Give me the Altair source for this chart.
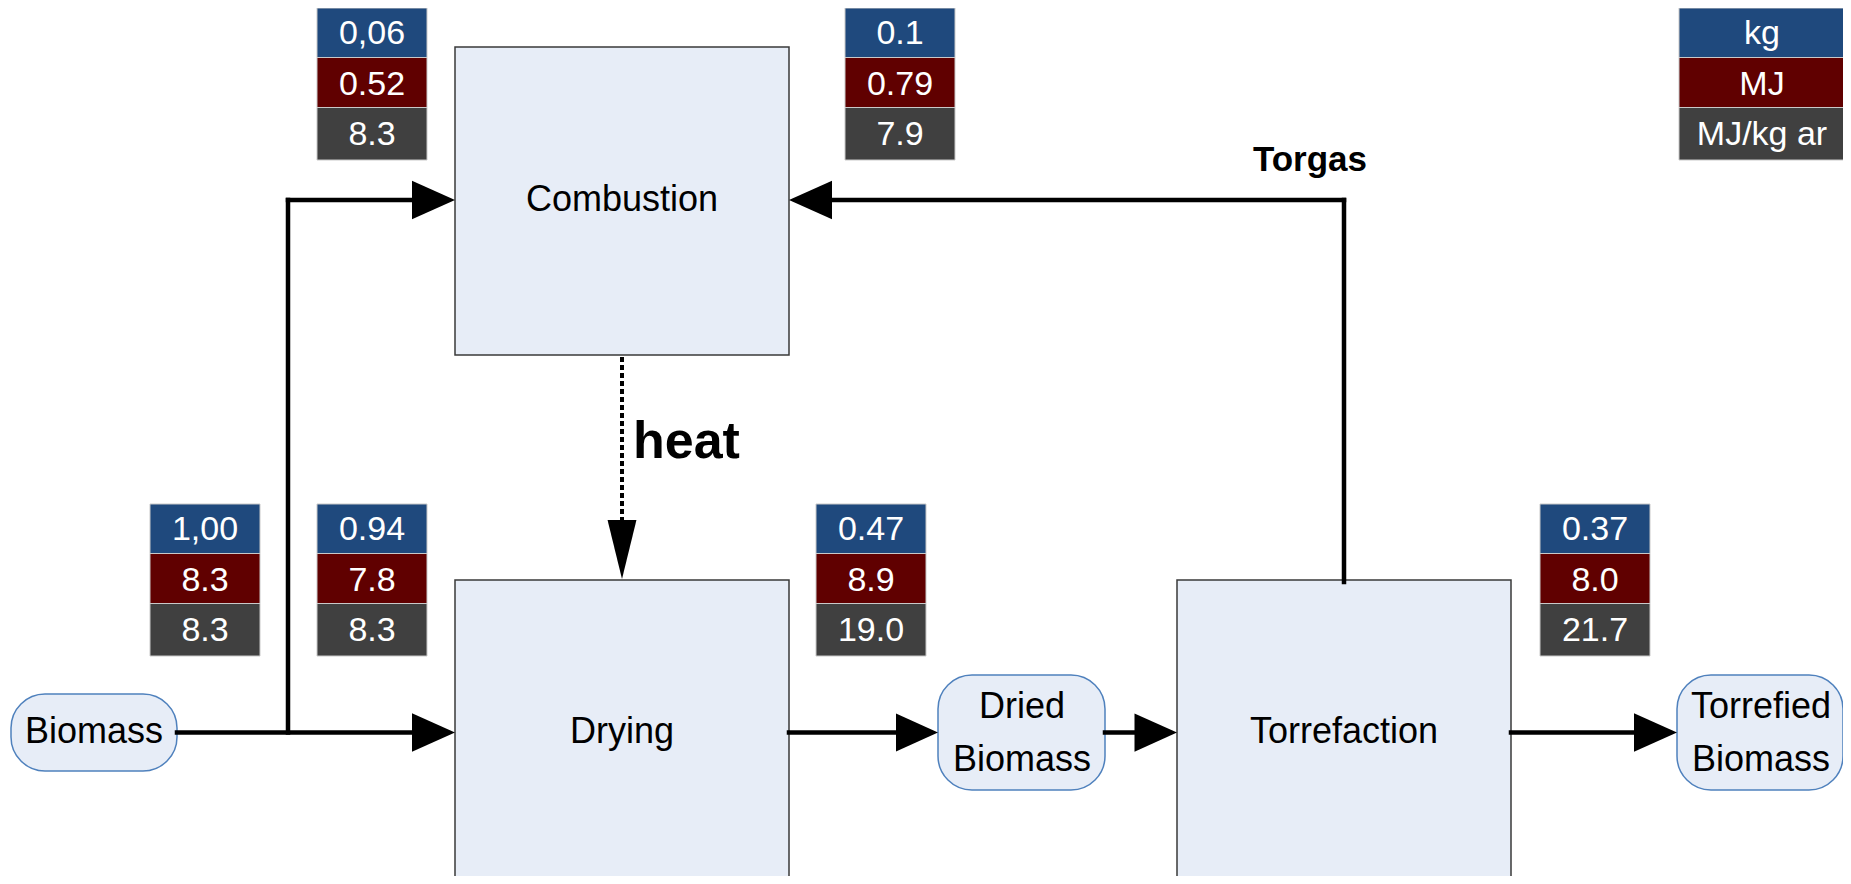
import altair as alt
import pandas as pd

# ---------------- values ----------------
table_ids = ["combustion_in", "torgas", "legend", "biomass", "drying_in", "dried", "torrefied"]
mass_kg = ["0,06", "0.1", "kg", "1,00", "0.94", "0.47", "0.37"]
energy_mj = ["0.52", "0.79", "MJ", "8.3", "7.8", "8.9", "8.0"]
lhv_mj_kg = ["8.3", "7.9", "MJ/kg ar", "8.3", "8.3", "19.0", "21.7"]

process_names = ["Combustion", "Drying", "Torrefaction"]
stream_names = [["Biomass"], ["Dried", "Biomass"], ["Torrefied", "Biomass"]]
flow_labels = ["Torgas", "heat"]

# ---------------- layout (pixel coordinates of the reference) ----------------
W, H = 1835, 868
X0, Y0 = 8, 8
FONT = "Liberation Sans Narrow, Arial Narrow, Liberation Sans, Arial, sans-serif"

table_left = [317, 845, 1679, 150, 317, 816, 1540]
table_width = [110, 110, 166, 110, 110, 110, 110]
table_top = [8, 8, 8, 504, 504, 504, 504]
row_edges = [0, 49.5, 99.5, 152]
row_baseline = [36, 86.5, 136.5]
row_colors = ["#1F497D", "#600000", "#404040"]

proc_x = [455, 455, 1177]
proc_x2 = [789, 789, 1511]
proc_y = [47, 580, 580]
proc_y2 = [355, 900, 900]
proc_label_x = [622, 622, 1344]
proc_label_y = [210.5, 742.5, 742.5]

term_x = [11, 938, 1677]
term_x2 = [177, 1105, 1843]
term_y = [694, 675, 675]
term_y2 = [771, 790, 790]
term_label_x = [94, 1022, 1761]
term_label_y = [[742.5], [717.5], [717.5]]
term_label_y2 = [None, 771, 771]

# solid flow segments (x, y, x2, y2)
segments = [
    (177, 732.5, 418, 732.5),   # biomass -> drying
    (288, 732.5, 288, 200),     # branch up
    (288, 200, 416, 200),       # branch -> combustion
    (1344, 582, 1344, 200),     # torgas up
    (1344, 200, 828, 200),      # torgas -> combustion
    (789, 732.5, 900, 732.5),   # drying -> dried biomass
    (1105, 732.5, 1139, 732.5), # dried -> torrefaction
    (1511, 732.5, 1638, 732.5), # torrefaction -> torrefied
]
heat_segment = (622, 357, 622, 524)

RIGHT = "M0,0L-2,-0.9L-2,0.9Z"
LEFT = "M0,0L2,-0.9L2,0.9Z"
DOWN = "M0,0L-0.49,-2L0.49,-2Z"
arrow_x = [455, 789, 455, 938, 1177, 1677, 622]
arrow_y = [200, 200, 732.5, 732.5, 732.5, 732.5, 579]
arrow_shape = [RIGHT, LEFT, RIGHT, RIGHT, RIGHT, RIGHT, DOWN]
arrow_len = [43, 43, 43, 42, 42.5, 43, 59]

# ---------------- build tables ----------------
xs = alt.Scale(domain=[X0, X0 + W], nice=False, zero=False)
ys = alt.Scale(domain=[Y0, Y0 + H], nice=False, zero=False, reverse=True)


def X(f="x"):
    return alt.X(f"{f}:Q", scale=xs, axis=None)


def Y(f="y"):
    return alt.Y(f"{f}:Q", scale=ys, axis=None)


cells, cell_text = [], []
for i, tid in enumerate(table_ids):
    vals = [mass_kg[i], energy_mj[i], lhv_mj_kg[i]]
    for r in range(3):
        cells.append(dict(x=table_left[i], x2=table_left[i] + table_width[i],
                          y=table_top[i] + row_edges[r], y2=table_top[i] + row_edges[r + 1],
                          fill=row_colors[r]))
        cell_text.append(dict(x=table_left[i] + table_width[i] / 2,
                              y=table_top[i] + row_baseline[r], text=vals[r]))
cells = pd.DataFrame(cells)
cell_text = pd.DataFrame(cell_text)

procs = pd.DataFrame(dict(x=proc_x, x2=proc_x2, y=proc_y, y2=proc_y2))
proc_labels = pd.DataFrame(dict(x=proc_label_x, y=proc_label_y, text=process_names))

terms = pd.DataFrame(dict(x=term_x, x2=term_x2, y=term_y, y2=term_y2))
term_rows = []
for i, lines in enumerate(stream_names):
    ys_lines = term_label_y[i] + ([term_label_y2[i]] if term_label_y2[i] is not None else [])
    for j, ln in enumerate(lines):
        term_rows.append(dict(x=term_label_x[i], y=ys_lines[j], text=ln))
term_labels = pd.DataFrame(term_rows)

segs = pd.DataFrame(segments, columns=["x", "y", "x2", "y2"])
heat = pd.DataFrame([heat_segment], columns=["x", "y", "x2", "y2"])
arrows = pd.DataFrame(dict(x=arrow_x, y=arrow_y, shape=arrow_shape,
                           size=[l * l for l in arrow_len]))

bold_labels = pd.DataFrame(dict(x=[1310, 633], y=[170.5, 457.5], text=flow_labels))

# ---------------- layers ----------------
proc_layer = alt.Chart(procs).mark_rect(fill="#E7EDF7", stroke="#3A3A3A", strokeWidth=1.5).encode(
    x=X(), x2="x2:Q", y=Y(), y2="y2:Q")
term_layer = alt.Chart(terms).mark_rect(fill="#E7EDF7", stroke="#4F81BD", strokeWidth=1.5,
                                        cornerRadius=34).encode(
    x=X(), x2="x2:Q", y=Y(), y2="y2:Q")
seg_layer = alt.Chart(segs).mark_rule(color="black", strokeWidth=4.5, strokeCap="square").encode(
    x=X(), x2="x2:Q", y=Y(), y2="y2:Q")
heat_layer = alt.Chart(heat).mark_rule(color="black", strokeWidth=4, strokeDash=[5, 3]).encode(
    x=X(), x2="x2:Q", y=Y(), y2="y2:Q")
arrow_layer = alt.Chart(arrows).mark_point(filled=True, opacity=1, color="black", strokeWidth=0).encode(
    x=X(), y=Y(), shape=alt.Shape("shape:N", scale=None, legend=None),
    size=alt.Size("size:Q", scale=None, legend=None))
cell_layer = alt.Chart(cells).mark_rect(stroke="#C9C9C9", strokeWidth=1).encode(
    x=X(), x2="x2:Q", y=Y(), y2="y2:Q", fill=alt.Fill("fill:N", scale=None, legend=None))
cell_text_layer = alt.Chart(cell_text).mark_text(font=FONT, fontSize=34, color="white",
                                                 align="center", baseline="alphabetic").encode(
    x=X(), y=Y(), text="text:N")
proc_text_layer = alt.Chart(proc_labels).mark_text(font=FONT, fontSize=36, color="black",
                                                   align="center", baseline="alphabetic").encode(
    x=X(), y=Y(), text="text:N")
term_text_layer = alt.Chart(term_labels).mark_text(font=FONT, fontSize=36, color="black",
                                                   align="center", baseline="alphabetic").encode(
    x=X(), y=Y(), text="text:N")
torgas_layer = alt.Chart(bold_labels.iloc[[0]]).mark_text(font=FONT, fontSize=35, fontWeight="bold",
                                                          color="black", align="center",
                                                          baseline="alphabetic").encode(
    x=X(), y=Y(), text="text:N")
heat_text_layer = alt.Chart(bold_labels.iloc[[1]]).mark_text(font=FONT, fontSize=52, fontWeight="bold",
                                                             color="black", align="left",
                                                             baseline="alphabetic").encode(
    x=X(), y=Y(), text="text:N")

chart = alt.layer(
    proc_layer, term_layer, seg_layer, heat_layer, arrow_layer,
    cell_layer, cell_text_layer, proc_text_layer, term_text_layer,
    torgas_layer, heat_text_layer,
).properties(width=W, height=H, padding=0, autosize="none").configure_view(stroke=None)

chart.save("out.html", embed_options={"renderer": "svg", "actions": False})
